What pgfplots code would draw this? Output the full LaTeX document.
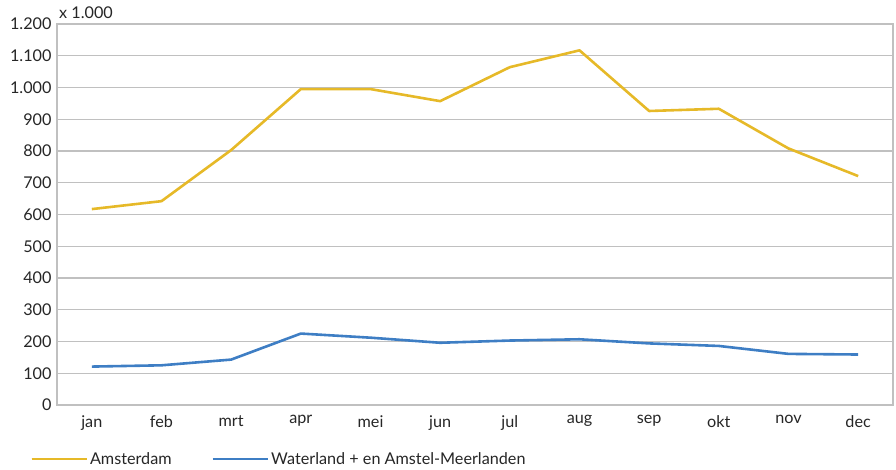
\documentclass[border=0pt]{standalone}
\usepackage{pgfplots}
\pgfplotsset{compat=1.18}
\usepackage{fontspec}
\setmainfont{Lato}
\definecolor{amsgold}{RGB}{230,185,40}
\definecolor{wblue}{RGB}{62,126,196}
\definecolor{gridgray}{RGB}{192,192,192}
\begin{document}
\begin{tikzpicture}
\begin{axis}[
  name=main,
  scale only axis,
  width=836bp, height=381bp,
  xmin=-0.5, xmax=11.5,
  ymin=0, ymax=1200,
  xtick={0,...,11},
  xticklabels={jan,feb,mrt,apr,mei,jun,jul,aug,sep,okt,nov,dec},
  ytick={0,100,...,1200},
  font=\fontsize{16.2bp}{19bp}\selectfont,
  ymajorgrids,
  grid style={gridgray, line width=1.2bp},
  axis line style={gridgray, line width=1.2bp},
  major tick length=0pt,
  xticklabel style={yshift=-7bp, text=black!85},
  yticklabel style={xshift=-2bp, text=black!85,
    /pgf/number format/1000 sep={.}, /pgf/number format/assume math mode=true},
  legend columns=2,
  legend style={draw=none, fill=none, at={(-0.032,-0.118)}, anchor=north west,
    font=\fontsize{16.2bp}{19bp}\selectfont, text=black!85,
    /tikz/every even column/.append style={column sep=38bp},
    inner sep=0pt},
  legend image code/.code={\path (0bp,0bp) -- (55bp,0bp);\draw[#1] (0bp,0bp) -- (50bp,0bp);},
  every axis plot/.append style={line width=2.6bp, line join=round},
  clip=false,
]
\addplot[amsgold] coordinates {
(0,617) (1,642) (2,803) (3,995) (4,995) (5,957) (6,1064) (7,1117) (8,926) (9,933) (10,808) (11,721)};
\addlegendentry{Amsterdam}
\addplot[wblue] coordinates {
(0,121) (1,125) (2,143) (3,225) (4,212) (5,196) (6,203) (7,207) (8,194) (9,186) (10,161) (11,159)};
\addlegendentry{Waterland + en Amstel-Meerlanden}
\node[anchor=south west, font=\fontsize{16.2bp}{19bp}\selectfont, text=black!85, inner sep=0pt] at ([xshift=2bp,yshift=5bp]rel axis cs:0,1) {x 1.000};
\end{axis}
\path ([xshift=-57bp,yshift=-65bp]main.south west) rectangle ([xshift=3bp,yshift=24bp]main.north east);
\end{tikzpicture}
\end{document}
